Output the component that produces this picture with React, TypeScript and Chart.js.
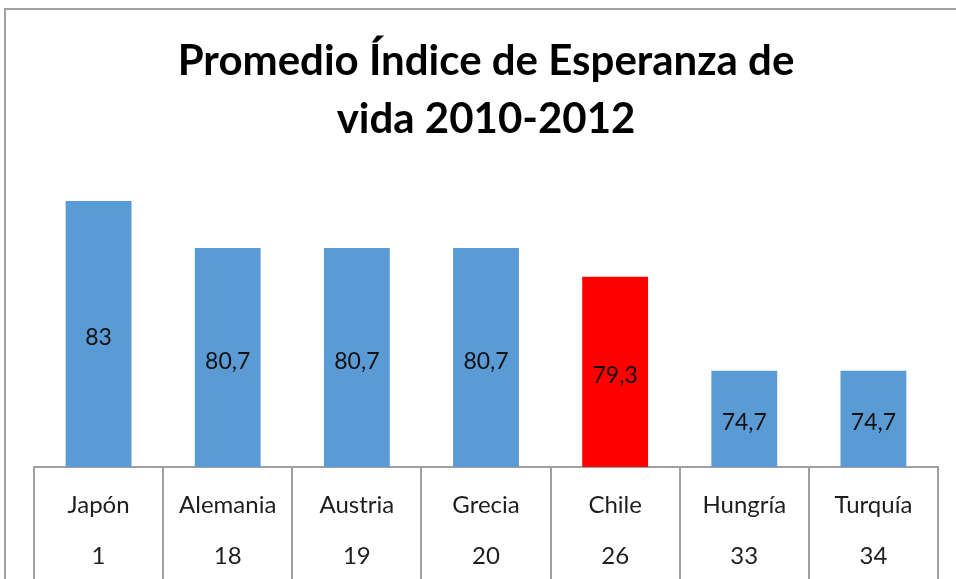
import React, { useEffect, useRef } from "react";
import { Chart, registerables } from "chart.js";

Chart.register(...registerables);

const countries = ["Japón", "Alemania", "Austria", "Grecia", "Chile", "Hungría", "Turquía"];
const ranks = ["1", "18", "19", "20", "26", "33", "34"];
const values = [83, 80.7, 80.7, 80.7, 79.3, 74.7, 74.7];
const barColors = ["#5B9BD5", "#5B9BD5", "#5B9BD5", "#5B9BD5", "#FF0000", "#5B9BD5", "#5B9BD5"];
const titleLines = ["Promedio Índice de Esperanza de", "vida 2010-2012"];

const FONT = "Lato, 'Open Sans', sans-serif";

const valueLabels = {
  id: "valueLabels",
  afterDatasetsDraw(chart: any) {
    const ctx = chart.ctx;
    const meta = chart.getDatasetMeta(0);
    const yScale = chart.scales.y;
    const basePx = yScale.getPixelForValue(yScale.min);
    ctx.save();
    ctx.font = `23px ${FONT}`;
    ctx.fillStyle = "#111111";
    ctx.textAlign = "center";
    ctx.textBaseline = "middle";
    meta.data.forEach((bar: any, i: number) => {
      const v = chart.data.datasets[0].data[i] as number;
      const txt = String(v).replace(".", ",");
      ctx.fillText(txt, bar.x, (bar.y + basePx) / 2 + 4);
    });
    ctx.restore();
  },
};

export default function App() {
  const ref = useRef<HTMLCanvasElement>(null);
  useEffect(() => {
    if (!ref.current) return;
    const chart = new Chart(ref.current, {
      type: "bar",
      data: {
        labels: countries.map((c, i) => [c, ranks[i]]),
        datasets: [
          {
            data: values,
            backgroundColor: barColors,
            borderWidth: 0,
            categoryPercentage: 1,
            barPercentage: 0.51,
          },
        ],
      },
      options: {
        animation: false,
        responsive: false,
        layout: { padding: { left: 34, right: 18, top: 0, bottom: 0 } },
        plugins: {
          legend: { display: false },
          tooltip: { enabled: false },
          title: {
            display: true,
            text: titleLines,
            color: "#000",
            font: { family: FONT, size: 42, weight: "bold", lineHeight: "58px" as any },
            padding: { top: 32, bottom: 12 },
          },
        },
        scales: {
          x: {
            afterFit: (scale: any) => {
              scale.height = 112;
            },
            grid: {
              offset: true,
              drawOnChartArea: false,
              drawTicks: true,
              tickLength: 112,
              color: "#a0a0a0",
              lineWidth: 2,
            },
            border: { display: true, color: "#a0a0a0", width: 2 },
            ticks: {
              padding: -99.5,
              maxRotation: 0,
              autoSkip: false,
              color: "#1e1e1e",
              font: { family: FONT, size: 24, lineHeight: "51px" as any },
            },
          },
          y: {
            display: false,
            min: 70,
            max: 85,
          },
        },
      },
      plugins: [valueLabels],
    });
    return () => chart.destroy();
  }, []);
  return (
    <div style={{ position: "fixed", left: 0, top: 0, width: 956, height: 579, background: "#fff" }}>
      <div
        style={{
          position: "absolute",
          left: 4,
          top: 8,
          width: 960,
          height: 600,
          borderLeft: "2px solid #a0a0a0",
          borderTop: "2px solid #a0a0a0",
        }}
      />
      <canvas ref={ref} width={956} height={579} style={{ position: "absolute", left: 0, top: 0 }} />
    </div>
  );
}
